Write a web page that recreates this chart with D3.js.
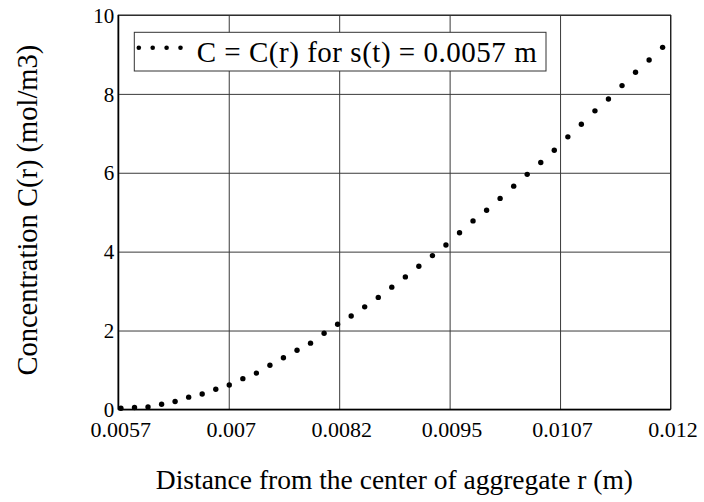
<!DOCTYPE html>
<html>
<head>
<meta charset="utf-8">
<script src="https://cdn.jsdelivr.net/npm/d3@7/dist/d3.min.js"></script>
<style>
	body { margin: 0; background: #fff; }
	text { font-family: "Liberation Serif", "Times New Roman", serif; fill: #000; }
</style>
</head>
<body>
<svg id="chart"></svg>
<script>
'use strict'

// distance r (m)
var rValues = [0.005730, 0.005885, 0.006039, 0.006194, 0.006348, 0.006503, 0.006657, 0.006812,
	0.006966, 0.007121, 0.007275, 0.007430, 0.007584, 0.007739, 0.007893, 0.008048,
	0.008202, 0.008357, 0.008511, 0.008666, 0.008820, 0.008975, 0.009129, 0.009284,
	0.009438, 0.009593, 0.009747, 0.009902, 0.010056, 0.010211, 0.010365, 0.010520,
	0.010674, 0.010829, 0.010983, 0.011138, 0.011292, 0.011447, 0.011601, 0.011756, 0.011910];

// concentration C(r) (mol/m3)
var cValues = [0.03, 0.05, 0.06, 0.13, 0.20, 0.31, 0.39, 0.51,
	0.62, 0.78, 0.92, 1.12, 1.31, 1.50, 1.68, 1.93,
	2.16, 2.37, 2.60, 2.84, 3.10, 3.36, 3.63, 3.90,
	4.17, 4.48, 4.78, 5.05, 5.35, 5.66, 5.96, 6.26,
	6.57, 6.91, 7.23, 7.57, 7.87, 8.21, 8.55, 8.86, 9.18];

var xTicks = [0.0057, 0.00696, 0.00822, 0.00948, 0.01074, 0.012];
var xTickLabels = ["0.0057", "0.007", "0.0082", "0.0095", "0.0107", "0.012"];
var yTicks = [0, 2, 4, 6, 8, 10];

var legendLabel = "C = C(r) for s(t) = 0.0057 m";

var WIDTH = 704,
	HEIGHT = 502;

var margin = { top: 15, right: 33.5, bottom: 92.6, left: 118.3 };
var w = WIDTH - margin.left - margin.right,
	h = HEIGHT - margin.top - margin.bottom;

var svg = d3.select("#chart")
	.attr("width", WIDTH)
	.attr("height", HEIGHT);

var g = svg.append("g")
	.attr("transform", "translate(" + margin.left + "," + margin.top + ")");

var x = d3.scaleLinear().domain([0.0057, 0.012]).range([0, w]);
var y = d3.scaleLinear().domain([0, 10]).range([h, 0]);

// grid
g.append("g")
	.attr("class", "grid")
	.call(d3.axisBottom(x).tickValues(xTicks).tickSize(-h).tickFormat(""))
	.attr("transform", "translate(0," + h + ")")
	.call(function (s) {
		s.select(".domain").remove();
		s.selectAll("line").attr("stroke", "#3a3a3a").attr("stroke-width", 1);
	});

g.append("g")
	.attr("class", "grid")
	.call(d3.axisLeft(y).tickValues(yTicks).tickSize(-w).tickFormat(""))
	.call(function (s) {
		s.select(".domain").remove();
		s.selectAll("line").attr("stroke", "#3a3a3a").attr("stroke-width", 1);
	});

// frame
g.append("rect")
	.attr("x", 0)
	.attr("y", 0)
	.attr("width", w)
	.attr("height", h)
	.attr("fill", "none")
	.attr("stroke", "#222")
	.attr("stroke-width", 1);

g.append("line")
	.attr("x1", 0).attr("x2", 0)
	.attr("y1", 0).attr("y2", h)
	.attr("stroke", "#000")
	.attr("stroke-width", 1.5);

g.append("line")
	.attr("x1", 0).attr("x2", w)
	.attr("y1", h).attr("y2", h)
	.attr("stroke", "#000")
	.attr("stroke-width", 1.5);

// tick labels
var xAxis = g.append("g")
	.attr("transform", "translate(0," + h + ")")
	.call(d3.axisBottom(x).tickValues(xTicks).tickSize(0).tickPadding(0)
		.tickFormat(function (d, i) { return xTickLabels[i]; }));
xAxis.select(".domain").remove();
xAxis.selectAll("text")
	.attr("dy", null)
	.attr("y", 28)
	.attr("dx", 2)
	.style("font-size", "22px")
	.style("font-family", "Liberation Serif");

var yAxis = g.append("g")
	.call(d3.axisLeft(y).tickValues(yTicks).tickSize(0).tickPadding(4));
yAxis.select(".domain").remove();
yAxis.selectAll("text")
	.attr("dy", "0.34em")
	.style("font-size", "21px")
	.style("font-family", "Liberation Serif");

// data points
g.selectAll("circle.pt")
	.data(rValues)
	.enter()
	.append("circle")
	.attr("class", "pt")
	.attr("cx", function (d) { return x(d); })
	.attr("cy", function (d, i) { return y(cValues[i]); })
	.attr("r", 2.7)
	.attr("fill", "#000");

// legend
var legend = svg.append("g").attr("transform", "translate(134.3,32.3)");
legend.append("rect")
	.attr("width", 411.7)
	.attr("height", 38.7)
	.attr("fill", "#fff")
	.attr("stroke", "#333")
	.attr("stroke-width", 1);

legend.selectAll("circle")
	.data([0, 1, 2, 3])
	.enter()
	.append("circle")
	.attr("cx", function (d) { return 4.5 + d * 13.9; })
	.attr("cy", 15.4)
	.attr("r", 2.3)
	.attr("fill", "#000");

legend.append("text")
	.attr("x", 62.4)
	.attr("y", 29.4)
	.attr("textLength", 340)
	.style("font-size", "29px")
	.text(legendLabel);

// axis titles
svg.append("text")
	.attr("x", margin.left + w / 2)
	.attr("y", 489.3)
	.attr("text-anchor", "middle")
	.style("font-size", "27.5px")
	.text("Distance from the center of aggregate r (m)");

svg.append("text")
	.attr("transform", "translate(37," + (margin.top + h / 2 - 2) + ") rotate(-90)")
	.attr("text-anchor", "middle")
	.style("font-size", "28.5px")
	.text("Concentration C(r) (mol/m3)");
</script>
</body>
</html>
